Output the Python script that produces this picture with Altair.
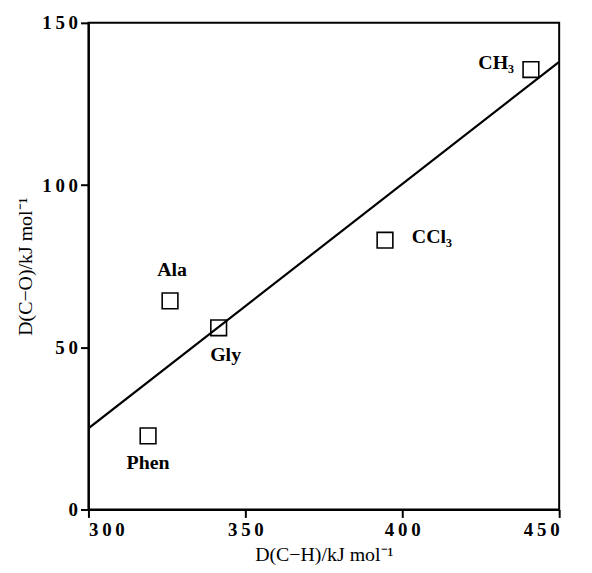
import altair as alt
import pandas as pd

# data
names = ["Phen", "Ala", "Gly", "CCl\u2083", "CH\u2083"]
dch = [319, 326, 341.5, 394.5, 441]
dco = [22.7, 64.3, 56.0, 83.0, 135.6]
fit_x = [300, 450]
fit_y = [25, 138]

pts = pd.DataFrame({"name": names, "x": dch, "y": dco})
fit = pd.DataFrame({"x": fit_x, "y": fit_y})

FONT = "Liberation Serif"

xscale = alt.Scale(domain=[300, 450], nice=False, zero=False)
yscale = alt.Scale(domain=[0, 150], nice=False)

spaced = "join(split(datum.label, ''), '\u2009')"

xenc = alt.X("x:Q", scale=xscale,
             axis=alt.Axis(values=[300, 350, 400, 450], title="D(C\u2212H)/kJ mol\u207b\u00b9",
                           labelExpr=spaced, grid=False))
yenc = alt.Y("y:Q", scale=yscale,
             axis=alt.Axis(values=[0, 50, 100, 150], title="D(C\u2212O)/kJ mol\u207b\u00b9",
                           labelExpr=spaced, grid=False))

line = alt.Chart(fit).mark_line(color="black", strokeWidth=2.2, clip=True).encode(x=xenc, y=yenc)

squares = alt.Chart(pts).mark_point(shape="square", filled=False, color="black",
                                    size=250, strokeWidth=1.6, opacity=1).encode(x=xenc, y=yenc)

def lab(name, **kw):
    return alt.Chart(pts).transform_filter(alt.datum.name == name).mark_text(
        font=FONT, fontWeight="bold", fontSize=20, color="black", baseline="middle", **kw
    ).encode(x=xenc, y=yenc, text="name:N")

labels = [
    lab("CH\u2083", align="right", dx=-17, dy=-7),
    lab("Ala", align="center", dx=2, dy=-31),
    lab("Gly", align="center", dx=7, dy=27),
    lab("Phen", align="center", dx=0, dy=27),
    lab("CCl\u2083", align="left", dx=27, dy=-3),
]

chart = alt.layer(line, squares, *labels).properties(
    width=474, height=490,
    autosize=alt.AutoSizeParams(type="none"),
    padding={"left": 81, "top": 13, "right": 25, "bottom": 58},
).configure_view(
    stroke="black", strokeWidth=2
).configure_axis(
    domainColor="black", domainWidth=2, tickColor="black", tickWidth=2, tickSize=8,
    labelFont=FONT, labelFontWeight="bold", labelFontSize=19, labelColor="black",
    labelPadding=3,
    titleFont=FONT, titleFontWeight="normal", titleFontSize=20, titleColor="black",
).configure_axisX(titlePadding=5).configure_axisY(titlePadding=6)

chart.save("out.html", embed_options={"renderer": "svg", "actions": False})
